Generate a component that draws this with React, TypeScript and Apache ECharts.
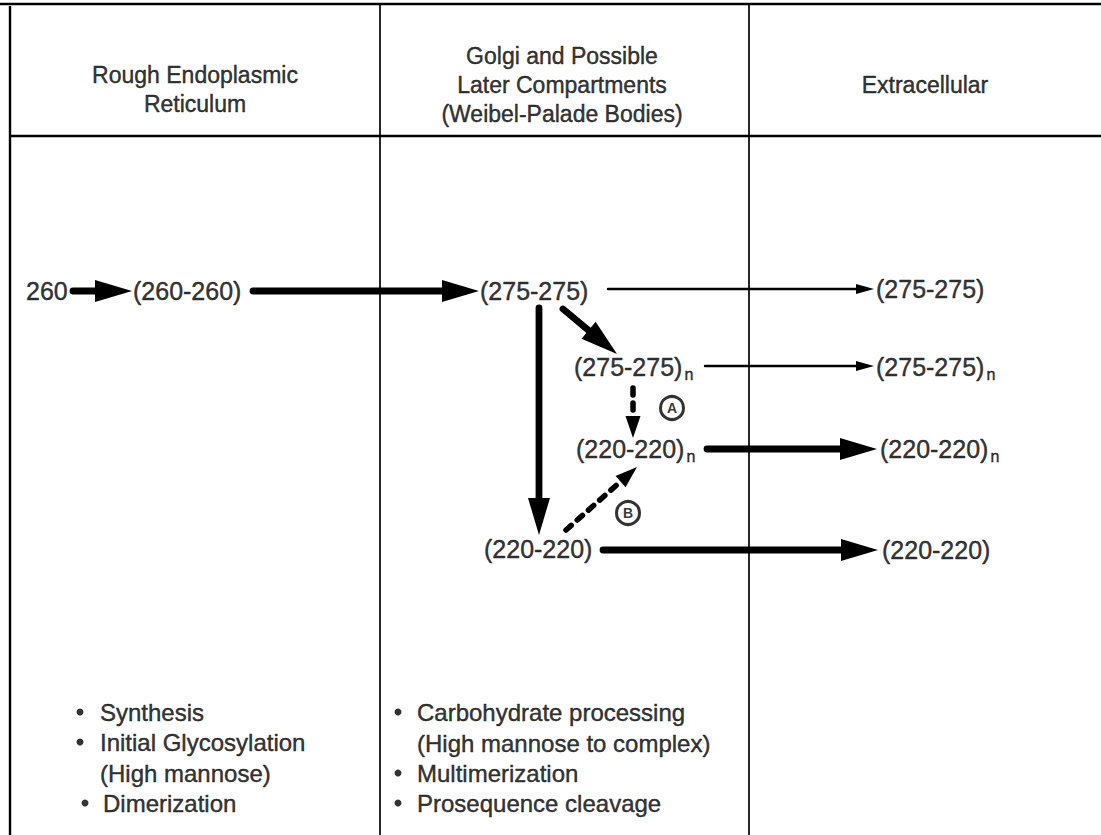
import React, { useEffect, useRef } from 'react';
import * as echarts from 'echarts';

const W = 1101;
const H = 835;
const FONT = '"Liberation Sans", Arial, Helvetica, sans-serif';
const INK = '#000000';

// Table rules: [x1, y1, x2, y2] in diagram units
const ruleSegments = [
  [0, 4, 1101, 4],
  [10, 6, 10, 835],
  [380, 4, 380, 835],
  [749, 4, 749, 835],
  [10, 136, 1101, 136],
];
const ruleKinds = ['outer', 'outer', 'divider', 'divider', 'outer'];

// Column headers
const headerTitles = [
  'Rough Endoplasmic\nReticulum',
  'Golgi and Possible\nLater Compartments\n(Weibel-Palade Bodies)',
  'Extracellular',
];
const headerX = [195, 562, 925];
const headerY = [89, 85, 85];

// Molecular species nodes
const nodeLabels = ['260', '(260-260)', '(275-275)', '(275-275)', '(275-275)', '(275-275)', '(220-220)', '(220-220)', '(220-220)', '(220-220)'];
const nodeSub = ['', '', '', '', 'n', 'n', 'n', 'n', '', ''];
const nodeX = [26, 133, 480, 876, 574, 876, 576, 880, 484, 882];
const nodeY = [291, 291, 291, 289, 367, 367, 449, 449, 549, 550];

// Arrows: from / to (tip) and kind
const arrowFrom = [[73, 291], [253, 291], [608, 289], [563, 309], [539, 308], [705, 366], [633, 388], [707, 449], [566, 530], [603, 550]];
const arrowTo = [[132, 291], [479, 291], [874, 289], [617, 354], [539, 535], [874, 366], [633, 438], [877, 449], [637, 467], [878, 550]];
const arrowKind = ['thick', 'thick', 'thin', 'thick', 'thick', 'thin', 'dashed', 'thick', 'dashed', 'thick'];

// Pathway markers
const markerLabels = ['A', 'B'];
const markerX = [672, 628];
const markerY = [408, 513];

// Process notes
const noteText = ['Synthesis', 'Initial Glycosylation', '(High mannose)', 'Dimerization', 'Carbohydrate processing', '(High mannose to complex)', 'Multimerization', 'Prosequence cleavage'];
const noteX = [100, 100, 100, 103, 417, 417, 417, 417];
const noteY = [712, 742, 773, 803, 712, 743, 773, 803];
const noteBulletX = [80, 80, null, 85, 398, null, 398, 398];

const RULE_STYLE: Record<string, number> = { outer: 2.4, divider: 1.7 };
const ARROW_STYLE: Record<string, any> = {
  thick: { width: 6.8, headLen: 37, headW: 22, dash: null },
  thin: { width: 2.4, headLen: 18, headW: 10, dash: null },
  dashed: { width: 5.5, headLen: 22, headW: 15, dash: [7, 8] },
};
const TEXT_WEIGHT = { textBorderColor: '#000000', textBorderWidth: 0.45 };

export default function App() {
  const ref = useRef<HTMLDivElement>(null);
  useEffect(() => {
    if (!ref.current) return;
    const chart = echarts.init(ref.current, undefined, { renderer: 'svg', width: W, height: H });

    const ruleData = ruleSegments.map((s) => [s[0], s[1], s[2], s[3]]);
    const arrowData = arrowFrom.map((f, i) => [f[0], f[1], arrowTo[i][0], arrowTo[i][1]]);

    const bulletDots: number[][] = [];
    noteBulletX.forEach((bx, i) => {
      if (bx !== null) bulletDots.push([bx as number, noteY[i]]);
    });

    const option: any = {
      animation: false,
      backgroundColor: '#ffffff',
      grid: { left: 0, right: 0, top: 0, bottom: 0 },
      xAxis: { type: 'value', min: 0, max: W, show: false },
      yAxis: { type: 'value', min: 0, max: H, inverse: true, show: false },
      series: [
        {
          type: 'custom',
          name: 'rules',
          silent: true,
          clip: false,
          z: 1,
          data: ruleData,
          renderItem: (params: any, api: any) => {
            const a = api.coord([api.value(0), api.value(1)]);
            const b = api.coord([api.value(2), api.value(3)]);
            return {
              type: 'line',
              shape: { x1: a[0], y1: a[1], x2: b[0], y2: b[1] },
              style: { stroke: INK, lineWidth: RULE_STYLE[ruleKinds[params.dataIndex]] },
            };
          },
        },
        {
          type: 'custom',
          name: 'arrows',
          silent: true,
          clip: false,
          z: 3,
          data: arrowData,
          renderItem: (params: any, api: any) => {
            const p1 = api.coord([api.value(0), api.value(1)]);
            const p2 = api.coord([api.value(2), api.value(3)]);
            const st = ARROW_STYLE[arrowKind[params.dataIndex]];
            const dx = p2[0] - p1[0];
            const dy = p2[1] - p1[1];
            const len = Math.hypot(dx, dy);
            const ux = dx / len;
            const uy = dy / len;
            const bx = p2[0] - ux * st.headLen;
            const by = p2[1] - uy * st.headLen;
            const px = -uy;
            const py = ux;
            const hw = st.headW / 2;
            const lineStyle: any = { stroke: INK, lineWidth: st.width, lineCap: 'round' };
            if (st.dash) lineStyle.lineDash = st.dash;
            return {
              type: 'group',
              children: [
                {
                  type: 'line',
                  shape: { x1: p1[0], y1: p1[1], x2: bx + ux * 2, y2: by + uy * 2 },
                  style: lineStyle,
                },
                {
                  type: 'polygon',
                  shape: {
                    points: [
                      [p2[0], p2[1]],
                      [bx + px * hw, by + py * hw],
                      [bx - px * hw, by - py * hw],
                    ],
                  },
                  style: { fill: INK },
                },
              ],
            };
          },
        },
        {
          type: 'scatter',
          name: 'headers',
          silent: true,
          z: 4,
          symbolSize: 0,
          data: headerTitles.map((t, i) => ({ name: t, value: [headerX[i], headerY[i]] })),
          label: {
            show: true,
            position: 'inside',
            formatter: (p: any) => p.name,
            fontFamily: FONT,
            fontSize: 23,
            lineHeight: 29,
            color: INK,
            align: 'center',
            ...TEXT_WEIGHT,
          },
        },
        {
          type: 'scatter',
          name: 'nodes',
          silent: true,
          z: 4,
          symbolSize: 0,
          data: nodeLabels.map((t, i) => ({ name: t, value: [nodeX[i], nodeY[i]] })),
          label: {
            show: true,
            position: 'right',
            distance: 0,
            formatter: (p: any) =>
              nodeSub[p.dataIndex] ? `{m|${p.name}}{s|${nodeSub[p.dataIndex]}}` : `{m|${p.name}}`,
            rich: {
              m: { fontFamily: FONT, fontSize: 25, lineHeight: 30, color: INK, ...TEXT_WEIGHT },
              s: { fontFamily: FONT, fontSize: 16, lineHeight: 16, color: INK, padding: [15, 0, 0, 2], ...TEXT_WEIGHT },
            },
          },
        },
        {
          type: 'scatter',
          name: 'markers',
          silent: true,
          z: 5,
          symbol: 'circle',
          symbolSize: 23,
          itemStyle: { color: '#ffffff', borderColor: INK, borderWidth: 3 },
          data: markerLabels.map((t, i) => ({ name: t, value: [markerX[i], markerY[i]] })),
          label: {
            show: true,
            position: 'inside',
            formatter: (p: any) => p.name,
            fontFamily: FONT,
            fontSize: 14,
            fontWeight: 'bold',
            color: INK,
          },
        },
        {
          type: 'scatter',
          name: 'notes',
          silent: true,
          z: 4,
          symbolSize: 0,
          data: noteText.map((t, i) => ({ name: t, value: [noteX[i], noteY[i]] })),
          label: {
            show: true,
            position: 'right',
            distance: 0,
            formatter: (p: any) => p.name,
            fontFamily: FONT,
            fontSize: 24,
            color: INK,
            ...TEXT_WEIGHT,
          },
        },
        {
          type: 'scatter',
          name: 'bullets',
          silent: true,
          z: 4,
          symbol: 'circle',
          symbolSize: 7,
          itemStyle: { color: INK },
          data: bulletDots,
        },
      ],
    };
    chart.setOption(option);
    return () => chart.dispose();
  }, []);

  return (
    <div
      ref={ref}
      style={{ position: 'absolute', left: 0, top: 0, width: W, height: H, background: '#fff' }}
    />
  );
}
